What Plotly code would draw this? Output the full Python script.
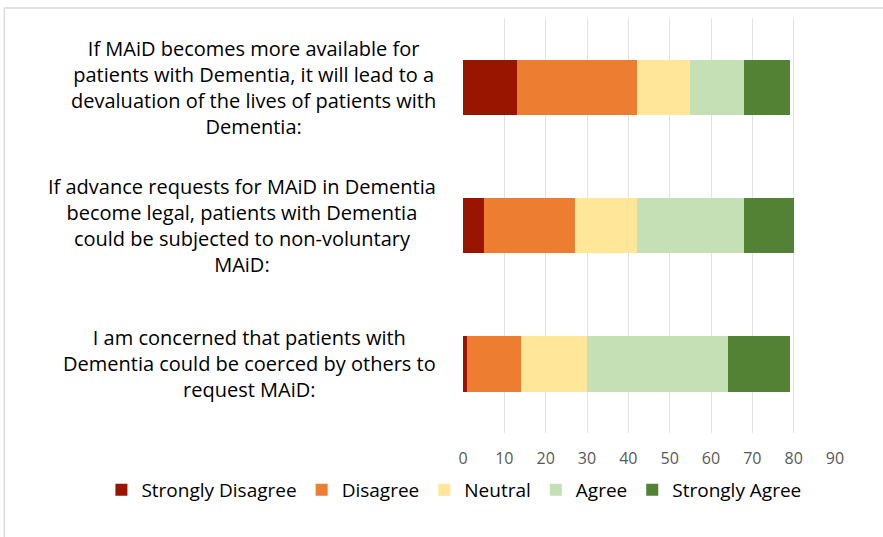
import plotly.graph_objects as go

categories = [
    "If MAiD becomes more available for<br>patients with Dementia, it will lead to a<br>devaluation of the lives of patients with<br>Dementia:",
    "If advance requests for MAiD in Dementia<br>become legal, patients with Dementia<br>could be subjected to non-voluntary<br>MAiD:",
    "I am concerned that patients with<br>Dementia could be coerced by others to<br>request MAiD:",
]
series_names = ["Strongly Disagree", "Disagree", "Neutral", "Agree", "Strongly Agree"]
strongly_disagree = [13, 5, 1]
disagree = [29, 22, 13]
neutral = [13, 15, 16]
agree = [13, 26, 34]
strongly_agree = [11, 12, 15]
tick_values = [0, 10, 20, 30, 40, 50, 60, 70, 80, 90]

colors = ["#991500", "#ED7D31", "#FFE699", "#C5E0B4", "#548235"]
values = [strongly_disagree, disagree, neutral, agree, strongly_agree]
keys = ["c0", "c1", "c2"]

FONT = "Open Sans, sans-serif"

fig = go.Figure()
for name, vals, col in zip(series_names, values, colors):
    fig.add_trace(go.Bar(
        y=keys, x=vals, name=name, orientation="h",
        marker=dict(color=col, line=dict(width=0)),
    ))

for k, label in zip(keys, categories):
    fig.add_annotation(
        x=0, xref="paper", y=k, yref="y", text=label, showarrow=False,
        xanchor="right", yanchor="middle", align="center", xshift=-25,
        font=dict(family=FONT, size=20, color="#000000"),
    )

fig.add_shape(type="rect", xref="paper", yref="paper",
              x0=-1.233, x1=1.2, y0=-0.5, y1=1.024,
              line=dict(color="#d9d9d9", width=1.5), fillcolor="rgba(0,0,0,0)", layer="below")

fig.update_layout(
    width=883, height=537,
    barmode="stack", bargap=0.6,
    plot_bgcolor="white", paper_bgcolor="white",
    margin=dict(l=463, r=48, t=18, b=104, autoexpand=False),
    font=dict(family=FONT, color="#000000"),
    xaxis=dict(range=[0, 90], tickvals=tick_values, showgrid=True, gridcolor="#e3e3e3",
               gridwidth=1, zeroline=False, showline=False, ticklabelstandoff=14,
               tickfont=dict(family=FONT, size=16, color="#595959"), ticks=""),
    yaxis=dict(autorange="reversed", showticklabels=False, showgrid=False, zeroline=False,
               showline=False, ticks=""),
    legend=dict(orientation="h", x=-0.972, xanchor="left", y=-0.137, yanchor="middle",
                font=dict(family=FONT, size=19, color="#000000"), traceorder="normal",
                itemwidth=30, bgcolor="rgba(0,0,0,0)"),
    showlegend=True,
)

fig.write_html("out.html", config={"displayModeBar": False},
               post_script="document.body.style.margin='0';")
